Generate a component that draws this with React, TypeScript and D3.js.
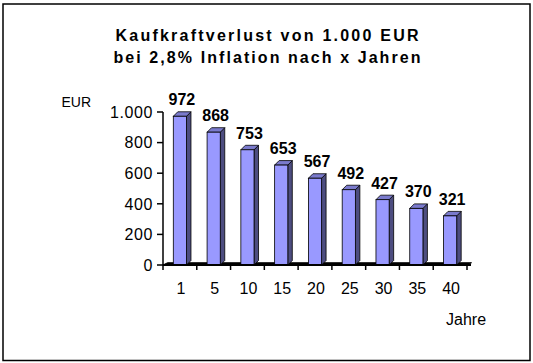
import React from "react";
import * as d3 from "d3";

const years = ["1", "5", "10", "15", "20", "25", "30", "35", "40"];
const values = [972, 868, 753, 653, 567, 492, 427, 370, 321];
const yTicks = [0, 200, 400, 600, 800, 1000];
const titleLines = ["Kaufkraftverlust von 1.000 EUR", "bei 2,8% Inflation nach x Jahren"];
const yUnit = "EUR";
const xUnit = "Jahre";

const W = 533;
const H = 363;
const FONT = "'Liberation Sans', Arial, Helvetica, sans-serif";

const fmt = (v: number) => (v >= 1000 ? d3.format(",")(v).replace(/,/g, ".") : String(v));

export default function App() {
  const x = d3.scaleBand<string>().domain(years).range([163, 467]).paddingInner(0).paddingOuter(0);
  const y = d3.scaleLinear().domain([0, 1000]).range([265, 112]);
  const step = x.step();
  const fw = step * 0.39;
  const d = 4.5;
  const base = y(0);

  return (
    <svg
      width={W}
      height={H}
      style={{ position: "fixed", left: 0, top: 0, background: "#fff" }}
      fontFamily={FONT}
    >
      <rect x={0} y={0} width={W} height={H} fill="#fff" />
      <rect x={3} y={4} width={527} height={356.5} fill="none" stroke="#000" strokeWidth={1.5} />

      {/* title */}
      <text x={267} y={41} textAnchor="middle" fontSize={16} fontWeight="bold" textLength={303} lengthAdjust="spacing">
        {titleLines[0]}
      </text>
      <text x={267} y={63} textAnchor="middle" fontSize={16} fontWeight="bold" textLength={307} lengthAdjust="spacing">
        {titleLines[1]}
      </text>

      {/* axis units */}
      <text x={61.5} y={107} fontSize={14}>{yUnit}</text>
      <text x={446} y={325} fontSize={16}>{xUnit}</text>

      {/* y axis */}
      <line x1={163} x2={163} y1={y(1000)} y2={base + 5} stroke="#000" strokeWidth={1.5} />
      {yTicks.map((t) => (
        <g key={t}>
          <line x1={157} x2={163} y1={y(t)} y2={y(t)} stroke="#000" strokeWidth={1.5} />
          <text x={153} y={y(t)} dy="0.36em" textAnchor="end" fontSize={16} letterSpacing={0.6}>
            {fmt(t)}
          </text>
        </g>
      ))}

      {/* floor */}
      <polygon
        points={`163,${base} 467,${base} ${467 + d},${base - d * 0.5} ${163 + d},${base - d * 0.5}`}
        fill="#000"
        stroke="#000"
        strokeWidth={1}
      />

      {/* bars */}
      {years.map((yr, i) => {
        const v = values[i];
        const cx = (x(yr) as number) + step / 2;
        const x0 = cx - fw / 2;
        const x1 = x0 + fw;
        const yt = y(v);
        return (
          <g key={yr}>
            <polygon
              points={`${x1},${yt} ${x1 + d},${yt - d} ${x1 + d},${base - d} ${x1},${base}`}
              fill="#4d4d80"
              stroke="#000"
              strokeWidth={0.8}
            />
            <polygon
              points={`${x0},${yt} ${x0 + d},${yt - d} ${x1 + d},${yt - d} ${x1},${yt}`}
              fill="#7a7acc"
              stroke="#000"
              strokeWidth={0.8}
            />
            <rect x={x0} y={yt} width={fw} height={base - yt} fill="#9999ff" stroke="#000" strokeWidth={0.8} />
            <text x={cx + 2} y={yt - 11} textAnchor="middle" fontSize={16} fontWeight="bold">
              {v}
            </text>
          </g>
        );
      })}

      {/* x axis */}
      <line x1={163} x2={471} y1={base} y2={base} stroke="#000" strokeWidth={2} />
      {years.map((yr, i) => (
        <line key={"t" + yr} x1={(x(yr) as number) + step} x2={(x(yr) as number) + step} y1={base} y2={base + 5} stroke="#000" strokeWidth={1.5} />
      ))}
      {years.map((yr) => (
        <text key={"l" + yr} x={(x(yr) as number) + step / 2 + 1} y={294} textAnchor="middle" fontSize={16}>
          {yr}
        </text>
      ))}
    </svg>
  );
}
